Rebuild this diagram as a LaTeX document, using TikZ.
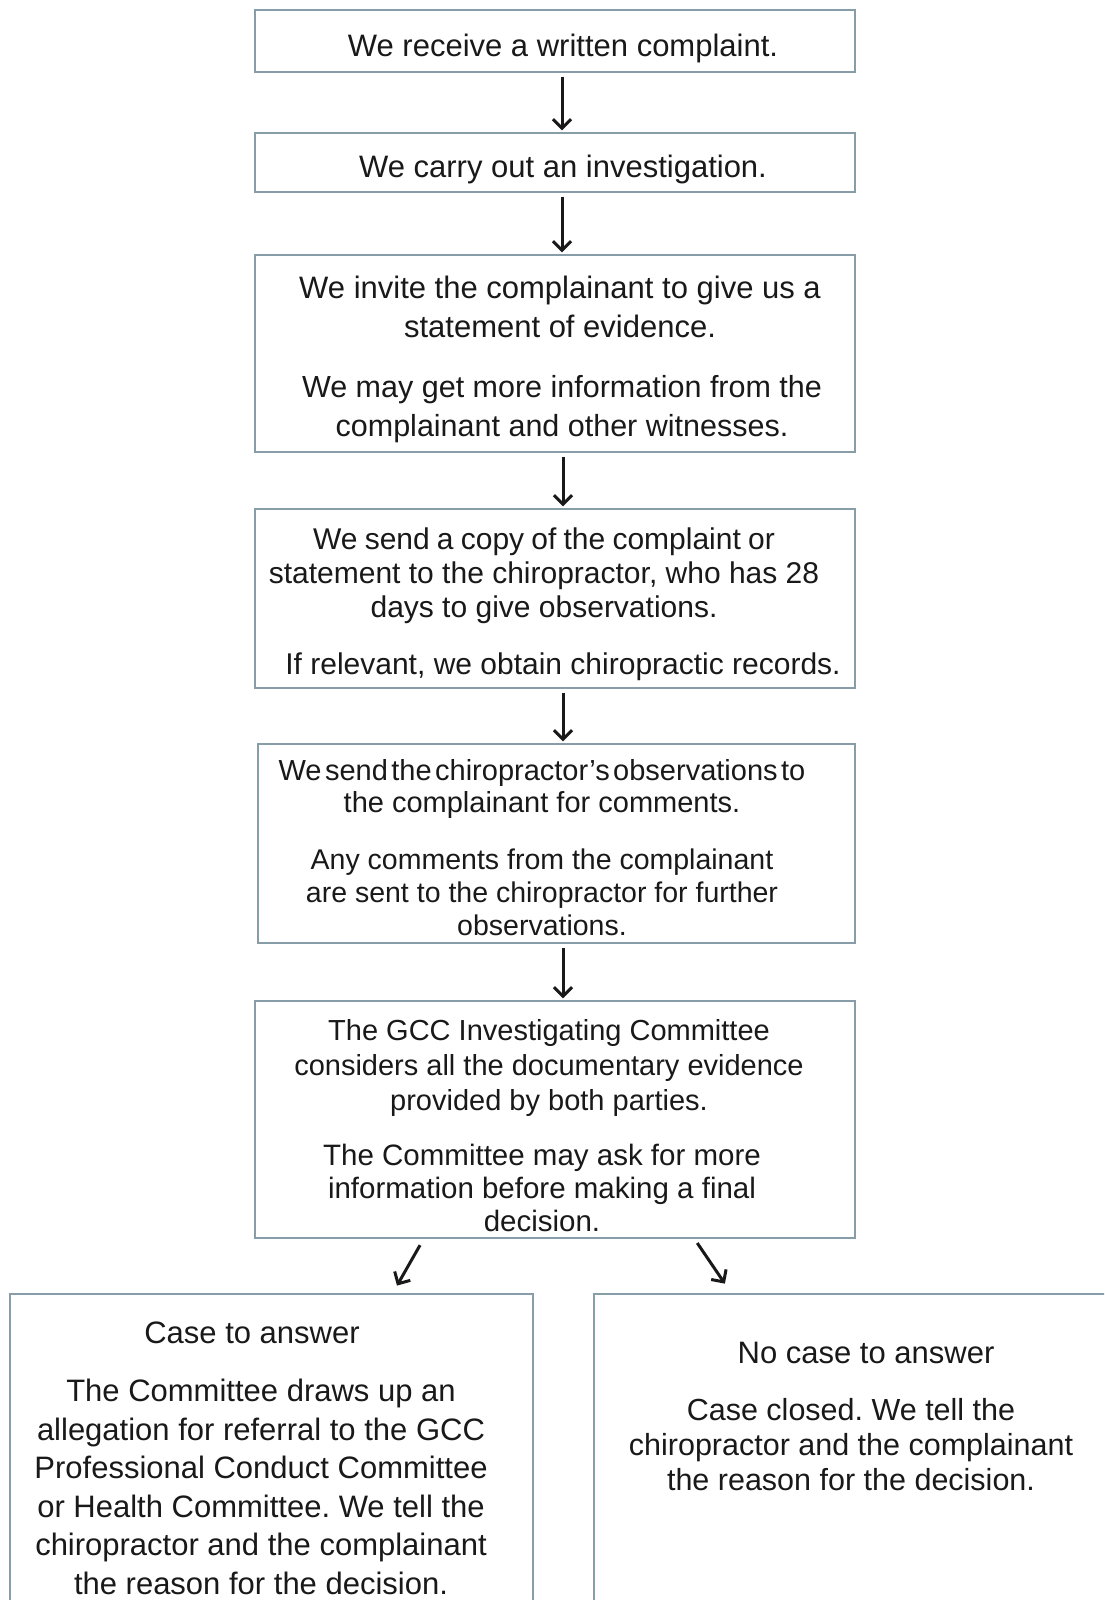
\documentclass[tikz,border=0pt]{standalone}
\usepackage{fontspec}
\setmainfont{Liberation Sans}
\usetikzlibrary{arrows.meta}
\definecolor{boxline}{RGB}{135,158,168}
\definecolor{ink}{RGB}{25,25,25}
\tikzset{
  box/.style={draw=boxline, line width=1.4pt, rectangle, inner sep=0pt},
  txt/.style 2 args={text=ink, align=center, inner sep=0pt, font=\fontsize{#1}{#2}\selectfont\frenchspacing},
  arr/.style={draw=ink, line width=3pt, shorten <=4pt, shorten >=2pt,
    -{Straight Barb[length=9pt,width=18pt,line width=3pt]}},
}
\begin{document}
\begin{tikzpicture}[x=1pt,y=-1pt]
\useasboundingbox (0,0) rectangle (1104,1600);
\fill[white] (0,0) rectangle (1104,1600);
\begin{scope}
\clip (0,0) rectangle (1104,1600);
% boxes
\node[box, minimum width=600pt, minimum height=62pt]  (b1) at (555,41) {};
\node[box, minimum width=600pt, minimum height=59pt]  (b2) at (555,162.5) {};
\node[box, minimum width=600pt, minimum height=197pt] (b3) at (555,353.5) {};
\node[box, minimum width=600pt, minimum height=179pt] (b4) at (555,598.5) {};
\node[box, minimum width=597pt, minimum height=199pt] (b5) at (556.5,843.5) {};
\node[box, minimum width=600pt, minimum height=237pt] (b6) at (555,1119.5) {};
\node[box, minimum width=523pt, minimum height=326pt] (b7) at (271.5,1457) {};
\node[box, minimum width=526pt, minimum height=326pt] (b8) at (857,1457) {};
% texts
\node[txt={31}{37}] (t1) at (563,48) {We receive a written complaint.};
\node[txt={31}{37}] (t2) at (563,169) {We carry out an investigation.};
\node[txt={31}{39}] (t3a) at (560,307) {We invite the complainant to give us a\\statement of evidence.};
\node[txt={30.5}{39}] (t3b) at (562,409) {We may get more information from the\\complainant and other witnesses.};
\node[txt={30}{34}] (t4a) at (544,576) {\spaceskip=0.24em\relax We send a copy of the complaint or\\statement to the chiropractor, who has 28\\days to give observations.};
\node[txt={30}{34}] (t4b) at (563,667) {If relevant, we obtain chiropractic records.};
\node[txt={29}{32}] (t5a) at (542,789) {\spaceskip=0.12em\relax We send the chiropractor’s observations to\\the complainant for comments.};
\node[txt={28.5}{33}] (t5b) at (542,892) {Any comments from the complainant\\are sent to the chiropractor for further\\observations.};
\node[txt={29}{35}] (t6a) at (549,1068) {The GCC Investigating Committee\\considers all the documentary evidence\\provided by both parties.};
\node[txt={29.5}{33}] (t6b) at (542,1188) {The Committee may ask for more\\information before making a final\\decision.};
\node[txt={31}{37}] (t7a) at (252,1333) {Case to answer};
\node[txt={31}{38.5}] (t7b) at (261,1487) {The Committee draws up an\\allegation for referral to the GCC\\Professional Conduct Committee\\or Health Committee. We tell the\\chiropractor and the complainant\\the reason for the decision.};
\node[txt={31}{37}] (t8a) at (866,1353) {No case to answer};
\node[txt={30.5}{35}] (t8b) at (851,1445) {Case closed. We tell the\\chiropractor and the complainant\\the reason for the decision.};
% arrows
\draw[arr] ([xshift=7pt]b1.south) -- ([xshift=7pt]b2.north);
\draw[arr] ([xshift=7pt]b2.south) -- ([xshift=7pt]b3.north);
\draw[arr] ([xshift=8pt]b3.south) -- ([xshift=8pt]b4.north);
\draw[arr] ([xshift=8pt]b4.south) -- ([xshift=6.5pt]b5.north);
\draw[arr] ([xshift=6.5pt]b5.south) -- ([xshift=8pt]b6.north);
\draw[arr] ([xshift=-133pt,yshift=-3pt]b6.south) -- ([xshift=124.5pt,yshift=6pt]b7.north);
\draw[arr] ([xshift=140pt,yshift=-1pt]b6.south) -- ([xshift=-131pt,yshift=8pt]b8.north);
\end{scope}
\end{tikzpicture}
\end{document}
